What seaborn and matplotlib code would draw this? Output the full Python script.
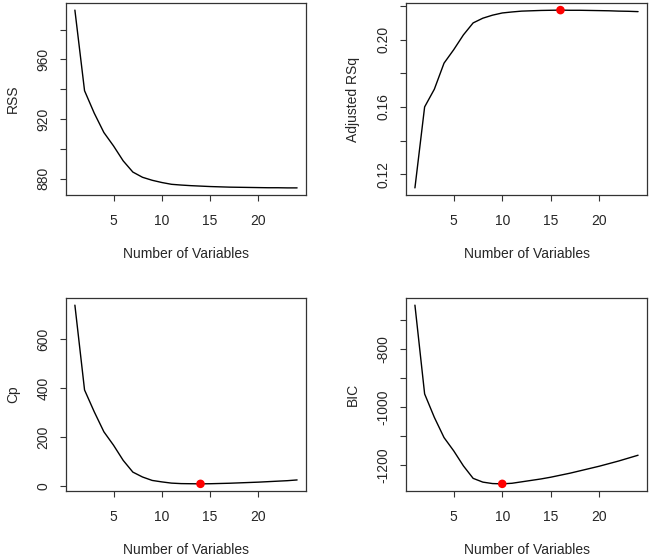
import seaborn as sns
import matplotlib.pyplot as plt
import numpy as np

n_vars = [1, 2, 3, 4, 5, 6, 7, 8, 9, 10, 11, 12,
          13, 14, 15, 16, 17, 18, 19, 20, 21, 22, 23, 24]

rss = [993, 939, 924, 911, 902, 892, 884.5, 881, 879, 877.5, 876.3, 875.8,
       875.4, 875.1, 874.8, 874.6, 874.4, 874.3, 874.2, 874.1, 874.0, 874.0, 873.9, 873.9]

adjr2 = [0.1119, 0.160, 0.1705, 0.186, 0.194, 0.2028, 0.2099, 0.2127, 0.2145, 0.2158,
         0.2164, 0.2169, 0.2171, 0.2173, 0.2174, 0.2175, 0.2174, 0.2174, 0.2173, 0.2172,
         0.2171, 0.2169, 0.2168, 0.2166]

cp = [740, 393, 304, 222, 167, 105, 57, 37, 23, 17, 12, 10,
      9.5, 9, 9.5, 10.5, 11.5, 13, 14.5, 16, 18, 20, 22, 25]

bic = [-647, -954, -1035, -1105, -1151, -1203, -1246, -1259, -1264, -1265, -1263, -1258,
       -1253, -1248, -1242, -1235, -1228, -1220, -1212, -1204, -1195, -1186, -1176, -1166]

# y ticks (all) and which get a label, R style
rss_ticks = [880, 900, 920, 940, 960, 980]
rss_labels = ['880', '', '920', '', '960', '']
adj_ticks = [0.12, 0.14, 0.16, 0.18, 0.20, 0.22]
adj_labels = ['0.12', '', '0.16', '', '0.20', '']
cp_ticks = [0, 200, 400, 600]
cp_labels = ['0', '200', '400', '600']
bic_ticks = [-1200, -1100, -1000, -900, -800, -700]
bic_labels = ['-1200', '', '-1000', '', '-800', '']
x_ticks = [5, 10, 15, 20]

sns.set_style('ticks')
plt.rcParams['font.family'] = ['Liberation Sans', 'DejaVu Sans']
plt.rcParams['axes.unicode_minus'] = False

fig = plt.figure(figsize=(6.5, 5.55), dpi=100)
W, H = 650, 555


def make_ax(x0, x1, y0, y1):
    return fig.add_axes([x0 / W, 1 - y1 / H, (x1 - x0) / W, (y1 - y0) / H])


panels = [
    (make_ax(66, 306, 3, 195), rss, 'RSS', rss_ticks, rss_labels, None),
    (make_ax(406, 647, 3, 195), adjr2, 'Adjusted RSq', adj_ticks, adj_labels, int(np.argmax(adjr2))),
    (make_ax(66, 306, 298, 491), cp, 'Cp', cp_ticks, cp_labels, int(np.argmin(cp))),
    (make_ax(406, 647, 298, 491), bic, 'BIC', bic_ticks, bic_labels, int(np.argmin(bic))),
]

for ax, vals, ylab, yt, ytl, best in panels:
    sns.lineplot(x=n_vars, y=vals, ax=ax, color='black', linewidth=1)
    if best is not None:
        sns.scatterplot(x=[n_vars[best]], y=[vals[best]], ax=ax, color='#ff0000',
                        s=38, edgecolor='none', zorder=5)
    ax.margins(x=0.04, y=0.04)
    ax.set_xticks(x_ticks)
    ax.set_yticks(yt)
    ax.set_yticklabels(ytl, rotation=90, va='center')
    ax.set_xlabel('Number of Variables', fontsize=10, labelpad=13)
    ax.set_ylabel(ylab, fontsize=10, labelpad=12)
    ax.tick_params(direction='out', length=4, width=0.8, labelsize=10, color='#333333')
    ax.tick_params(axis='x', pad=10)
    ax.tick_params(axis='y', pad=7)
    for sp in ax.spines.values():
        sp.set_visible(True)
        sp.set_linewidth(0.9)
        sp.set_color('#333333')

fig.savefig('out.png', dpi=100)
